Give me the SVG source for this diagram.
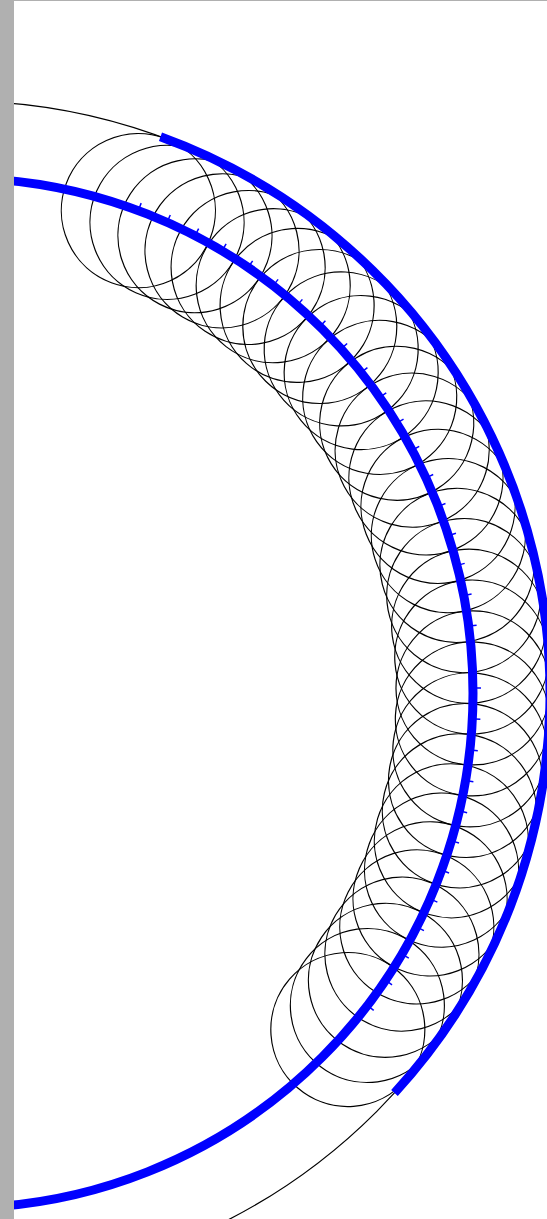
<svg xmlns="http://www.w3.org/2000/svg" xmlns:xlink="http://www.w3.org/1999/xlink" width="547" height="1219" viewBox="0 0 547 1219">
<style>
.thin{fill:none;stroke:#000;stroke-width:1.2}
.blue{fill:none;stroke:#0000ff;stroke-width:9}
.tick{stroke:#0000ff;stroke-width:1.5}
</style>
<defs>
<circle id="c" cx="473" cy="693" r="77" class="thin"/>
<line id="t" x1="476" y1="693" x2="481" y2="693" class="tick"/>
</defs>
<rect x="0" y="0" width="547" height="1219" fill="#fff"/>
<g id="outer-arc"><circle cx="-42" cy="693" r="592" class="thin"/></g>
<g id="circles">
<use xlink:href="#c" transform="rotate(-69.5 -42 693)"/>
<use xlink:href="#c" transform="rotate(-66.053 -42 693)"/>
<use xlink:href="#c" transform="rotate(-62.606 -42 693)"/>
<use xlink:href="#c" transform="rotate(-59.159 -42 693)"/>
<use xlink:href="#c" transform="rotate(-55.712 -42 693)"/>
<use xlink:href="#c" transform="rotate(-52.265 -42 693)"/>
<use xlink:href="#c" transform="rotate(-48.818 -42 693)"/>
<use xlink:href="#c" transform="rotate(-45.371 -42 693)"/>
<use xlink:href="#c" transform="rotate(-41.924 -42 693)"/>
<use xlink:href="#c" transform="rotate(-38.477 -42 693)"/>
<use xlink:href="#c" transform="rotate(-35.03 -42 693)"/>
<use xlink:href="#c" transform="rotate(-31.583 -42 693)"/>
<use xlink:href="#c" transform="rotate(-28.136 -42 693)"/>
<use xlink:href="#c" transform="rotate(-24.689 -42 693)"/>
<use xlink:href="#c" transform="rotate(-21.242 -42 693)"/>
<use xlink:href="#c" transform="rotate(-17.795 -42 693)"/>
<use xlink:href="#c" transform="rotate(-14.348 -42 693)"/>
<use xlink:href="#c" transform="rotate(-10.901 -42 693)"/>
<use xlink:href="#c" transform="rotate(-7.454 -42 693)"/>
<use xlink:href="#c" transform="rotate(-4.007 -42 693)"/>
<use xlink:href="#c" transform="rotate(-0.56 -42 693)"/>
<use xlink:href="#c" transform="rotate(2.887 -42 693)"/>
<use xlink:href="#c" transform="rotate(6.334 -42 693)"/>
<use xlink:href="#c" transform="rotate(9.781 -42 693)"/>
<use xlink:href="#c" transform="rotate(13.228 -42 693)"/>
<use xlink:href="#c" transform="rotate(16.675 -42 693)"/>
<use xlink:href="#c" transform="rotate(20.122 -42 693)"/>
<use xlink:href="#c" transform="rotate(23.569 -42 693)"/>
<use xlink:href="#c" transform="rotate(27.016 -42 693)"/>
<use xlink:href="#c" transform="rotate(30.463 -42 693)"/>
<use xlink:href="#c" transform="rotate(33.91 -42 693)"/>
<use xlink:href="#c" transform="rotate(37.357 -42 693)"/>
<use xlink:href="#c" transform="rotate(40.804 -42 693)"/>
</g>
<g id="inner-blue"><circle cx="-42" cy="693" r="515" class="blue"/></g>
<g id="ticks">
<use xlink:href="#t" transform="rotate(-69.5 -42 693)"/>
<use xlink:href="#t" transform="rotate(-66.053 -42 693)"/>
<use xlink:href="#t" transform="rotate(-62.606 -42 693)"/>
<use xlink:href="#t" transform="rotate(-59.159 -42 693)"/>
<use xlink:href="#t" transform="rotate(-55.712 -42 693)"/>
<use xlink:href="#t" transform="rotate(-52.265 -42 693)"/>
<use xlink:href="#t" transform="rotate(-48.818 -42 693)"/>
<use xlink:href="#t" transform="rotate(-45.371 -42 693)"/>
<use xlink:href="#t" transform="rotate(-41.924 -42 693)"/>
<use xlink:href="#t" transform="rotate(-38.477 -42 693)"/>
<use xlink:href="#t" transform="rotate(-35.03 -42 693)"/>
<use xlink:href="#t" transform="rotate(-31.583 -42 693)"/>
<use xlink:href="#t" transform="rotate(-28.136 -42 693)"/>
<use xlink:href="#t" transform="rotate(-24.689 -42 693)"/>
<use xlink:href="#t" transform="rotate(-21.242 -42 693)"/>
<use xlink:href="#t" transform="rotate(-17.795 -42 693)"/>
<use xlink:href="#t" transform="rotate(-14.348 -42 693)"/>
<use xlink:href="#t" transform="rotate(-10.901 -42 693)"/>
<use xlink:href="#t" transform="rotate(-7.454 -42 693)"/>
<use xlink:href="#t" transform="rotate(-0.56 -42 693)"/>
<use xlink:href="#t" transform="rotate(2.887 -42 693)"/>
<use xlink:href="#t" transform="rotate(6.334 -42 693)"/>
<use xlink:href="#t" transform="rotate(9.781 -42 693)"/>
<use xlink:href="#t" transform="rotate(13.228 -42 693)"/>
<use xlink:href="#t" transform="rotate(16.675 -42 693)"/>
<use xlink:href="#t" transform="rotate(20.122 -42 693)"/>
<use xlink:href="#t" transform="rotate(23.569 -42 693)"/>
<use xlink:href="#t" transform="rotate(27.016 -42 693)"/>
<use xlink:href="#t" transform="rotate(30.463 -42 693)"/>
<use xlink:href="#t" transform="rotate(33.91 -42 693)"/>
<use xlink:href="#t" transform="rotate(37.357 -42 693)"/>
</g>
<g id="outer-blue"><path d="M160.47 136.70 A592 592 0 0 1 394.47 1092.95" class="blue"/></g>
<g id="frame">
<rect x="0" y="0" width="14" height="1219" fill="#b0b0b0"/>
<rect x="14" y="0" width="533" height="1" fill="#b0b0b0"/>
</g>
</svg>
